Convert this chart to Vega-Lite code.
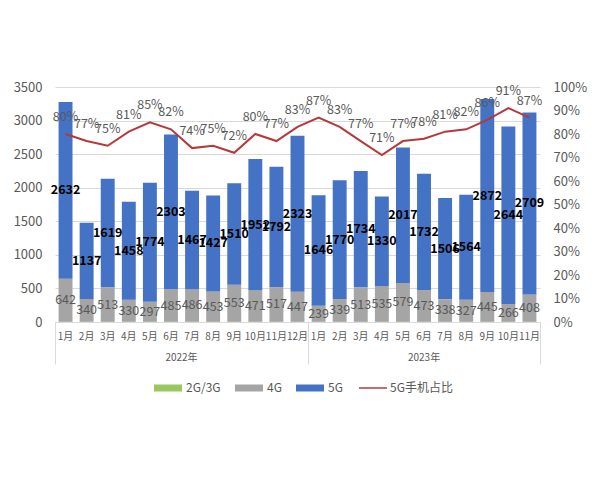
{
  "$schema": "https://vega.github.io/schema/vega-lite/v6.json",
  "width": 485,
  "height": 235,
  "autosize": {"type": "none"},
  "padding": {"left": 55, "top": 87, "right": 60, "bottom": 158},
  "background": "white",
  "config": {
    "view": {"stroke": null},
    "font": "Noto Sans CJK SC",
    "axis": {"labelFont": "Noto Sans CJK SC", "labelColor": "#595959", "title": null},
    "legend": {"labelFont": "Noto Sans CJK SC"}
  },
  "data": {"values": [
    {"key": "2022-01", "2G/3G": 3, "4G": 642, "5G": 2632, "share": 0.80},
    {"key": "2022-02", "2G/3G": 3, "4G": 340, "5G": 1137, "share": 0.77},
    {"key": "2022-03", "2G/3G": 3, "4G": 513, "5G": 1619, "share": 0.75},
    {"key": "2022-04", "2G/3G": 3, "4G": 330, "5G": 1458, "share": 0.81},
    {"key": "2022-05", "2G/3G": 3, "4G": 297, "5G": 1774, "share": 0.85},
    {"key": "2022-06", "2G/3G": 3, "4G": 485, "5G": 2303, "share": 0.82},
    {"key": "2022-07", "2G/3G": 3, "4G": 486, "5G": 1467, "share": 0.74},
    {"key": "2022-08", "2G/3G": 3, "4G": 453, "5G": 1427, "share": 0.75},
    {"key": "2022-09", "2G/3G": 3, "4G": 553, "5G": 1510, "share": 0.72},
    {"key": "2022-10", "2G/3G": 3, "4G": 471, "5G": 1952, "share": 0.80},
    {"key": "2022-11", "2G/3G": 3, "4G": 517, "5G": 1792, "share": 0.77},
    {"key": "2022-12", "2G/3G": 3, "4G": 447, "5G": 2323, "share": 0.83},
    {"key": "2023-01", "2G/3G": 3, "4G": 239, "5G": 1646, "share": 0.87},
    {"key": "2023-02", "2G/3G": 3, "4G": 339, "5G": 1770, "share": 0.83},
    {"key": "2023-03", "2G/3G": 3, "4G": 513, "5G": 1734, "share": 0.77},
    {"key": "2023-04", "2G/3G": 3, "4G": 535, "5G": 1330, "share": 0.71},
    {"key": "2023-05", "2G/3G": 3, "4G": 579, "5G": 2017, "share": 0.77},
    {"key": "2023-06", "2G/3G": 3, "4G": 473, "5G": 1732, "share": 0.78},
    {"key": "2023-07", "2G/3G": 3, "4G": 338, "5G": 1506, "share": 0.81},
    {"key": "2023-08", "2G/3G": 3, "4G": 327, "5G": 1564, "share": 0.82},
    {"key": "2023-09", "2G/3G": 3, "4G": 445, "5G": 2872, "share": 0.86},
    {"key": "2023-10", "2G/3G": 3, "4G": 266, "5G": 2644, "share": 0.91},
    {"key": "2023-11", "2G/3G": 3, "4G": 408, "5G": 2709, "share": 0.87}
  ]},
  "resolve": {"scale": {"y": "independent"}, "axis": {"x": "independent", "y": "independent"}},
  "layer": [
    {
      "transform": [
        {"fold": ["2G/3G", "4G", "5G"], "as": ["type", "value"]},
        {"stack": "value", "groupby": ["key"], "sort": [{"field": "type", "order": "ascending"}], "as": ["s0", "s1"]}
      ],
      "mark": {"type": "bar"},
      "encoding": {
        "x": {"field": "key", "type": "ordinal", "title": null,
          "scale": {"paddingInner": 0.34, "paddingOuter": 0.17},
          "axis": {"orient": "bottom", "labelExpr": "toNumber(substring(datum.value, 5, 7)) + '月'", "labelAngle": 0, "labelFontSize": 10, "labelPadding": 9, "ticks": false, "domain": true, "domainColor": "#D9D9D9", "grid": false}},
        "y": {"field": "s1", "type": "quantitative", "title": null,
          "scale": {"domain": [0, 3500], "nice": false},
          "axis": {"values": [0, 500, 1000, 1500, 2000, 2500, 3000, 3500], "format": "d", "labelFontSize": 13, "labelPadding": 13, "ticks": false, "tickSize": 0, "domain": false, "grid": true, "gridColor": "#D9D9D9"}},
        "y2": {"field": "s0"},
        "color": {"field": "type", "type": "nominal", "title": null,
          "scale": {"domain": ["2G/3G", "4G", "5G"], "range": ["#9BC75F", "#A5A5A5", "#4472C4"]},
          "legend": {"orient": "none", "legendX": 98, "legendY": 286, "direction": "horizontal", "symbolType": "M-1,-0.25L1,-0.25L1,0.25L-1,0.25Z", "symbolSize": 784, "labelFontSize": 12, "labelColor": "#595959", "labelOffset": 3, "columnPadding": 13}}
      }
    },
    {
      "transform": [
        {"fold": ["2G/3G", "4G", "5G"], "as": ["type", "value"]},
        {"stack": "value", "groupby": ["key"], "sort": [{"field": "type", "order": "ascending"}], "as": ["s0", "s1"]},
        {"filter": "datum.type === '4G'"},
        {"fold": ["s0", "s1"], "as": ["edge", "pos"]}
      ],
      "mark": {"type": "text", "fontSize": 12.5, "color": "#595959", "baseline": "middle"},
      "encoding": {
        "x": {"field": "key", "type": "ordinal", "title": null,
          "axis": {"orient": "bottom", "values": ["2023-11"], "labels": false, "domain": false, "ticks": true, "tickSize": 42, "tickOffset": 10.5, "tickColor": "#D9D9D9", "grid": false}},
        "y": {"aggregate": "mean", "field": "pos", "type": "quantitative", "stack": null, "scale": {"domain": [0, 3500], "nice": false}, "axis": null},
        "text": {"field": "value", "type": "quantitative"}
      }
    },
    {
      "transform": [
        {"fold": ["2G/3G", "4G", "5G"], "as": ["type", "value"]},
        {"stack": "value", "groupby": ["key"], "sort": [{"field": "type", "order": "ascending"}], "as": ["s0", "s1"]},
        {"filter": "datum.type === '5G'"},
        {"fold": ["s0", "s1"], "as": ["edge", "pos"]}
      ],
      "mark": {"type": "text", "fontSize": 12.5, "fontWeight": "bold", "color": "#000000", "baseline": "middle"},
      "encoding": {
        "x": {"field": "key", "type": "ordinal", "title": null, "axis": null},
        "y": {"aggregate": "mean", "field": "pos", "type": "quantitative", "stack": null, "scale": {"domain": [0, 3500], "nice": false}, "axis": null},
        "text": {"field": "value", "type": "quantitative"}
      }
    },
    {
      "mark": {"type": "line", "strokeWidth": 2},
      "encoding": {
        "x": {"field": "key", "type": "ordinal", "title": null,
          "axis": {"orient": "bottom", "values": ["2022-06", "2023-06"], "labelExpr": "substring(datum.value, 0, 4) + '年'", "labelAngle": 0, "labelFontSize": 10, "labelPadding": 8, "offset": 22, "ticks": false, "domain": false, "grid": false,
            "labelOffset": {"condition": {"test": "datum.value === '2022-06'", "value": 10.5}, "value": 0}}},
        "y": {"field": "share", "type": "quantitative", "title": null,
          "scale": {"domain": [0, 1], "nice": false},
          "axis": {"orient": "right", "values": [0, 0.1, 0.2, 0.3, 0.4, 0.5, 0.6, 0.7, 0.8, 0.9, 1], "format": ".0%", "labelFontSize": 13, "labelPadding": 13, "ticks": false, "tickSize": 0, "domain": false, "grid": false}},
        "stroke": {"datum": "5G手机占比", "type": "nominal", "title": null,
          "scale": {"range": ["#B5393B"]},
          "legend": {"orient": "none", "legendX": 303, "legendY": 286, "direction": "horizontal", "symbolSize": 784, "symbolStrokeWidth": 1.5, "labelFontSize": 12, "labelColor": "#595959", "labelOffset": 2}}
      }
    },
    {
      "mark": {"type": "text", "fontSize": 12.5, "color": "#595959", "baseline": "middle", "dy": -17},
      "encoding": {
        "x": {"field": "key", "type": "ordinal", "title": null,
          "axis": {"orient": "bottom", "values": ["2022-01", "2023-01"], "labels": false, "domain": false, "ticks": true, "tickSize": 42, "tickOffset": -10.5, "tickColor": "#D9D9D9", "grid": false}},
        "y": {"field": "share", "type": "quantitative", "scale": {"domain": [0, 1], "nice": false}, "axis": null},
        "text": {"field": "share", "type": "quantitative", "format": ".0%"}
      }
    }
  ]
}
